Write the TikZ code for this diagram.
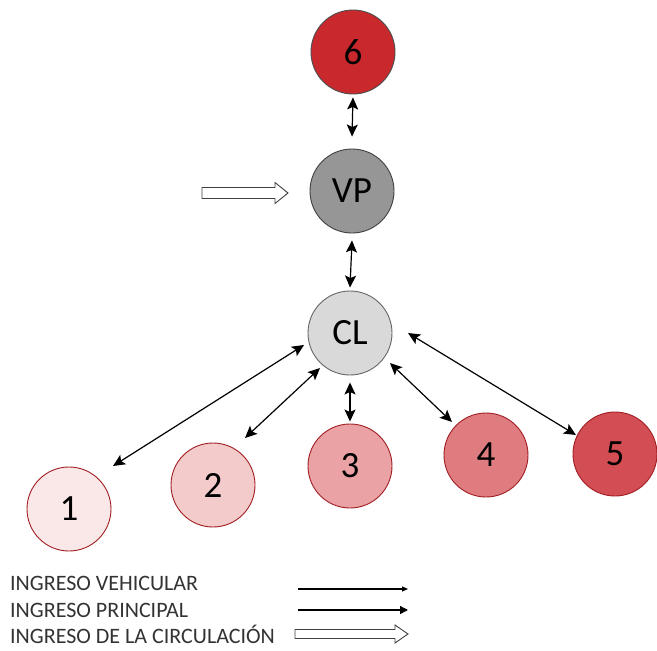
\documentclass[tikz,border=0pt]{standalone}
\usepackage{fontspec}
\setmainfont{Carlito}
\usetikzlibrary{arrows.meta}
\definecolor{cSix}{RGB}{201,40,45}
\definecolor{cVP}{RGB}{150,150,150}
\definecolor{cCL}{RGB}{217,217,217}
\definecolor{cOne}{RGB}{250,232,232}
\definecolor{cTwo}{RGB}{243,203,203}
\definecolor{cThree}{RGB}{234,162,165}
\definecolor{cFour}{RGB}{222,124,128}
\definecolor{cFive}{RGB}{210,78,84}
\definecolor{cRim}{RGB}{160,30,35}
\tikzset{
  zone/.style={circle, minimum size=84pt, inner sep=0pt, line width=0.9pt,
               font=\fontsize{37pt}{37pt}\selectfont},
  link/.style={{Stealth[length=12pt,width=11pt,inset=2.5pt]}-{Stealth[length=12pt,width=11pt,inset=2.5pt]},
               line width=1.2pt},
  blockarrow/.style={draw=black!75, fill=white, line width=0.9pt, line join=miter},
  legendtxt/.style={anchor=base west, inner sep=0pt, text=black!80,
                    font=\fontsize{22pt}{22pt}\selectfont},
  thinarrow/.style={-{Triangle[length=6pt,width=5pt]}, line width=1.1pt},
  boldarrow/.style={-{Triangle[length=8pt,width=8pt]}, line width=1.4pt}
}
\begin{document}
\begin{tikzpicture}[x=1pt,y=-1pt]
\useasboundingbox (0,0) rectangle (657,651);

% circles
\node[zone, draw=black!70, fill=cSix]   (n6) at (353,52)  {6};
\node[zone, draw=black!75, fill=cVP]    (VP) at (352,191) {VP};
\node[zone, draw=black!60, fill=cCL]    (CL) at (350,333) {CL};
\node[zone, draw=cRim, fill=cOne]       (n1) at (69,509)  {1};
\node[zone, draw=cRim, fill=cTwo]       (n2) at (213,485) {2};
\node[zone, draw=cRim, fill=cThree]     (n3) at (350,466) {3};
\node[zone, draw=cRim, fill=cFour]      (n4) at (486,455) {4};
\node[zone, draw=cRim, fill=cFive]      (n5) at (615,454) {5};

% two-way links
\draw[link] ([yshift=-3pt]n6.south) -- ([yshift=12pt]VP.north);
\draw[link] ([yshift=-7pt]VP.south) -- ([yshift=3pt]CL.north);
\draw[link] ([yshift=-7pt]CL.south) -- ([yshift=2pt]n3.north);
\draw[link] ([shift={(-46,12)}]CL.center) -- ([shift={(44,-43)}]n1.center);
\draw[link] ([shift={(-30,35)}]CL.center) -- ([shift={(32,-47)}]n2.center);
\draw[link] ([shift={(40,30)}]CL.center) -- ([shift={(-34,-33)}]n4.center);
\draw[link] ([shift={(58,0)}]CL.center) -- ([shift={(-39,-19)}]n5.center);

% entrance arrow towards VP
\draw[blockarrow] (202,187.5) -- (275,187.5) -- (275,182.5) -- (288,193)
  -- (275,203.5) -- (275,198.5) -- (202,198.5) -- cycle;

% legend
\node[legendtxt] (t1) at (10,590) {INGRESO VEHICULAR};
\node[legendtxt] (t2) at (10,617) {INGRESO PRINCIPAL};
\node[legendtxt] (t3) at (10,643) {INGRESO DE LA CIRCULACIÓN};
\coordinate (a1) at (298,589);
\coordinate (b1) at (408,589);
\coordinate (a2) at (298,610);
\coordinate (b2) at (408,610);
\draw[thinarrow] (a1) -- (b1);
\draw[boldarrow] (a2) -- (b2);
\draw[blockarrow] (295,629.5) -- (395,629.5) -- (395,625) -- (408,634)
  -- (395,643) -- (395,638.5) -- (295,638.5) -- cycle;
\end{tikzpicture}
\end{document}
